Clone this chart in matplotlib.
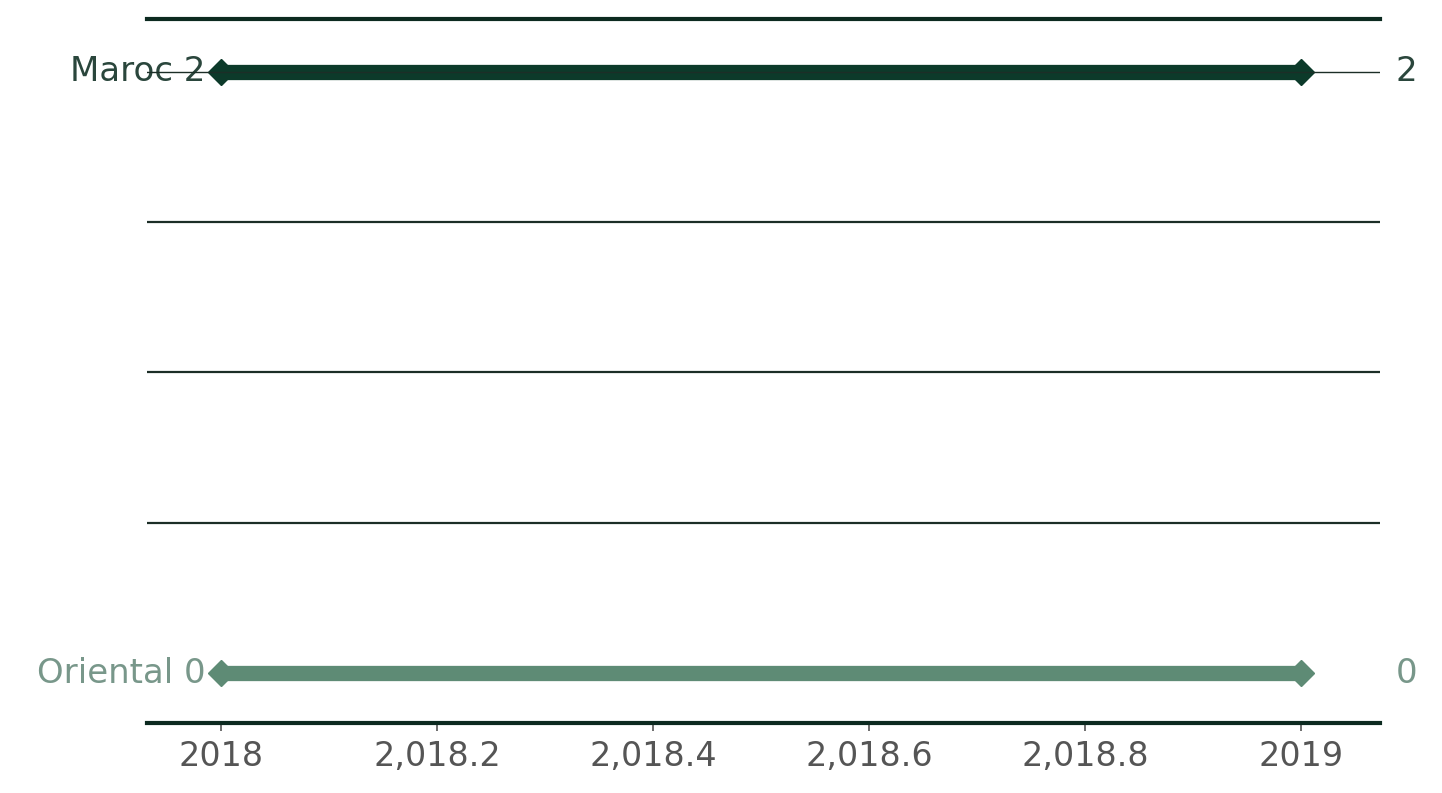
import numpy as np
import matplotlib
matplotlib.use('Agg')
import matplotlib.pyplot as plt

# données
annees = [2018, 2019]
regions = ['Maroc', 'Oriental']
valeurs = {'Maroc': [2, 2], 'Oriental': [0, 0]}
couleurs = {'Maroc': '#0c3a2a', 'Oriental': '#5e8b75'}
couleurs_txt = {'Maroc': '#2a463c', 'Oriental': '#78978a'}
xticks = [2018, 2018.2, 2018.4, 2018.6, 2018.8, 2019]
xtick_labels = ['2018', '2,018.2', '2,018.4', '2,018.6', '2,018.8', '2019']
grille = [0.5, 1.0, 1.5]

fig = plt.figure(figsize=(14.42, 7.93), dpi=100)
ax = fig.add_axes([0.102, 0.0883, 0.855, 0.888])

for y in grille:
    ax.axhline(y, color='#1c2e27', lw=1.6, zorder=1)

for r in regions:
    v = valeurs[r]
    ax.plot(annees, v, color=couleurs[r], lw=11, marker='D', markersize=13,
            solid_capstyle='butt', zorder=3)
    ax.annotate('{} {}'.format(r, v[0]), (annees[0], v[0]), xytext=(-11, 0),
                textcoords='offset points', ha='right', va='center',
                fontsize=24.5, color=couleurs_txt[r], zorder=2)
    ax.annotate('{}'.format(v[1]), (annees[1], v[1]), xytext=(68, 0),
                textcoords='offset points', ha='left', va='center',
                fontsize=24.5, color=couleurs_txt[r], zorder=2)

# ligne fine au niveau du Maroc
ax.axhline(2, color='#1c2e27', lw=1.0, zorder=4)

ax.set_xlim(2017.9315, 2019.073)
ax.set_ylim(-0.166, 2.176)
ax.set_xticks(xticks)
ax.set_xticklabels(xtick_labels)
ax.set_yticks([])
ax.tick_params(axis='x', labelsize=24, colors='#555555', length=6, width=1.2,
               pad=6)
for t in ax.xaxis.get_ticklines():
    t.set_color('#1c2e27')

for s in ['left', 'right']:
    ax.spines[s].set_visible(False)
for s in ['top', 'bottom']:
    ax.spines[s].set_linewidth(3)
    ax.spines[s].set_color('#0c2a20')

fig.savefig('out.png', dpi=100)
